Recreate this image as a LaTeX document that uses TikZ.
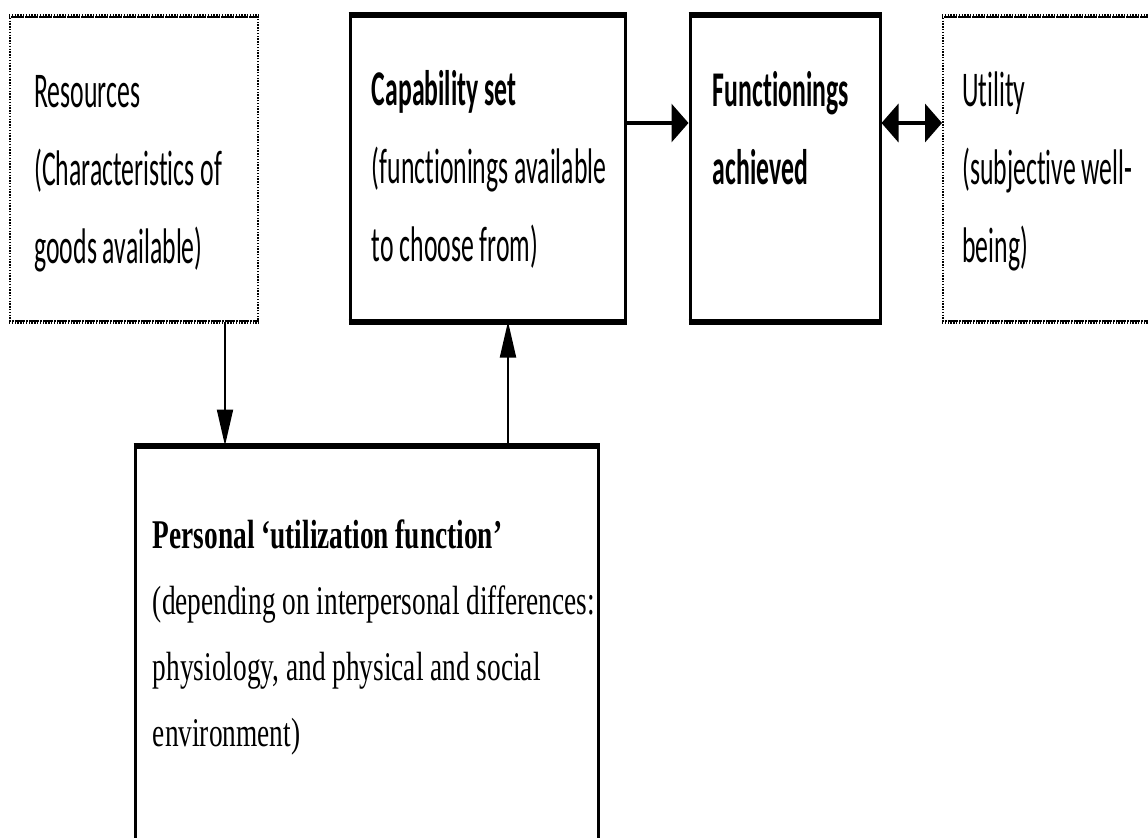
\documentclass[tikz,border=0pt]{standalone}
\usepackage{fontspec}
\setmainfont{Carlito}[FakeStretch=0.515,Ligatures=NoCommon]
\newfontfamily\serifn{Liberation Serif}[FakeStretch=0.67]
\usetikzlibrary{arrows.meta,calc,fit,positioning}
\tikzset{
    solidbox/.style={draw,line width=1.5pt,inner sep=0pt},
    dotbox/.style={draw,line width=1pt,dash pattern=on 0.7pt off 0.7pt,inner sep=0pt},
    thickedge/.style={draw,line width=3pt},
    dotedge/.style={draw,line width=2pt,dash pattern=on 0.7pt off 0.7pt},
    boxtext/.style={anchor=north west,inner sep=0pt,align=left,
        font=\fontsize{25}{39}\selectfont},
    perstext/.style={anchor=north west,inner sep=0pt,align=left,
        font=\serifn\fontsize{20.4}{33}\selectfont},
    bigflow/.style={draw,line width=1.75pt,-{Triangle[length=8.5pt,width=19pt]}},
    twoflow/.style={draw,line width=2pt,{Triangle[length=8.5pt,width=19pt]}-{Triangle[length=8.5pt,width=19pt]}},
    thinflow/.style={draw,line width=1pt,-{Triangle[length=18pt,width=8pt]}},
}
\begin{document}
\begin{tikzpicture}[x=0.5pt,y=-0.5pt]
    \useasboundingbox (0,0) rectangle (1148,837);
    \clip (0,0) rectangle (1148,837);

    \node [dotbox,fit={(10,17) (258,321)}] (res) {};
    \node [solidbox,fit={(350,16) (625,320)}] (cap) {};
    \node [solidbox,fit={(690,16) (880,320)}] (fun) {};
    \node [dotbox,fit={(943,17) (1170,321)}] (uti) {};
    \node [solidbox,fit={(135,447) (598,880)}] (per) {};

    \path [dotedge] (res.north west) -- (res.north east);
    \path [dotedge] (res.south west) -- (res.south east);
    \path [dotedge] (uti.north west) -- (uti.north east);
    \path [dotedge] (uti.south west) -- (uti.south east);
    \path [thickedge] (cap.north west) -- (cap.north east);
    \path [thickedge] (cap.south west) -- (cap.south east);
    \path [thickedge] (fun.north west) -- (fun.north east);
    \path [thickedge] (fun.south west) -- (fun.south east);
    \path [thickedge] (per.north west) -- (per.north east);

    \node [boxtext] (lres) at ($(res.north west)+(25,59)$)
        {Resources\\(Characteristics of\\goods available)};
    \node [boxtext] (lcap) at ($(cap.north west)+(23,56)$)
        {\textbf{Capability set}\\(functionings available\\to choose from)};
    \node [boxtext] (lfun) at ($(fun.north west)+(24,57)$)
        {\textbf{Functionings}\\\textbf{achieved}};
    \node [boxtext] (luti) at ($(uti.north west)+(20,55)$)
        {Utility\\(subjective well-\\being)};
    \node [perstext] (lper) at ($(per.north west)+(19,74)$)
        {\textbf{Personal ‘utilization function’}\\(depending on interpersonal differences:\\physiology, and physical and social\\environment)};

    \path [bigflow] (cap.east |- 0,123) -- (fun.west |- 0,123);
    \path [twoflow] (fun.east |- 0,123) -- (uti.west |- 0,123);
    \path [thinflow] (res.south -| 225,0) -- (per.north -| 225,0);
    \path [thinflow] (per.north -| 508,0) -- (cap.south -| 508,0);
\end{tikzpicture}
\end{document}
